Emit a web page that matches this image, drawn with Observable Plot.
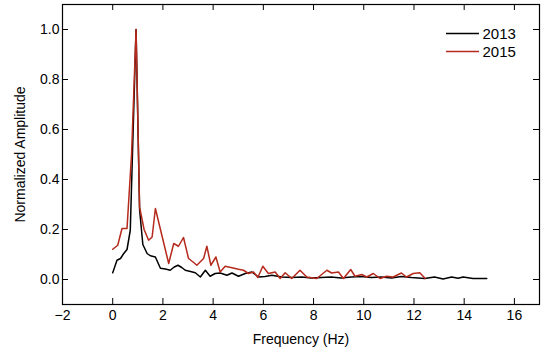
<!DOCTYPE html>
<html>
<head>
<meta charset="utf-8">
<script src="https://cdn.jsdelivr.net/npm/d3@7"></script>
<script src="https://cdn.jsdelivr.net/npm/@observablehq/plot@0.6"></script>
<style>
  html, body { margin: 0; padding: 0; background: #fff; }
  #chart { width: 550px; height: 354px; }
</style>
</head>
<body>
<div id="chart"></div>
<script>
const freq2013 = [0, 0.17, 0.31, 0.44, 0.57, 0.7, 0.93, 1.07, 1.2, 1.37, 1.5, 1.7, 1.9, 2.1, 2.29, 2.45, 2.6, 2.75, 2.89, 3.1, 3.29, 3.49, 3.69, 3.88, 4.08, 4.28, 4.55, 4.75, 5.01, 5.28, 5.54, 5.81, 6.07, 6.34, 6.73, 7.13, 7.53, 7.9, 8.3, 8.7, 9.1, 9.5, 9.9, 10.3, 10.7, 11.1, 11.5, 11.9, 12.43, 12.82, 13.16, 13.5, 13.76, 13.96, 14.35, 14.9];
const amp2013 = [0.027, 0.077, 0.084, 0.104, 0.12, 0.197, 1.0, 0.28, 0.14, 0.104, 0.095, 0.09, 0.045, 0.042, 0.037, 0.05, 0.057, 0.048, 0.037, 0.032, 0.027, 0.01, 0.037, 0.013, 0.024, 0.026, 0.017, 0.026, 0.013, 0.024, 0.03, 0.01, 0.012, 0.017, 0.01, 0.008, 0.01, 0.006, 0.008, 0.01, 0.006, 0.01, 0.012, 0.008, 0.01, 0.006, 0.012, 0.008, 0.004, 0.01, 0.002, 0.01, 0.005, 0.01, 0.004, 0.004];

const freq2015 = [0, 0.2, 0.37, 0.57, 0.75, 0.93, 1.07, 1.25, 1.43, 1.57, 1.7, 1.95, 2.23, 2.43, 2.62, 2.82, 3.02, 3.2, 3.35, 3.62, 3.75, 3.91, 4.11, 4.28, 4.48, 4.75, 5.01, 5.21, 5.41, 5.61, 5.78, 5.98, 6.2, 6.47, 6.67, 6.87, 7.13, 7.46, 7.73, 8.13, 8.53, 8.72, 8.99, 9.19, 9.48, 9.65, 9.92, 10.12, 10.38, 10.65, 10.91, 11.17, 11.5, 11.7, 11.97, 12.23, 12.45];
const amp2015 = [0.121, 0.137, 0.204, 0.204, 0.5, 1.0, 0.29, 0.2, 0.157, 0.17, 0.284, 0.18, 0.064, 0.144, 0.133, 0.168, 0.084, 0.07, 0.057, 0.084, 0.133, 0.057, 0.09, 0.03, 0.053, 0.047, 0.041, 0.037, 0.024, 0.03, 0.008, 0.053, 0.024, 0.03, 0.004, 0.027, 0.004, 0.037, 0.01, 0.004, 0.037, 0.026, 0.03, 0.004, 0.04, 0.013, 0.02, 0.01, 0.024, 0.004, 0.013, 0.01, 0.026, 0.01, 0.024, 0.027, 0.004];

const seriesNames = ["2013", "2015"];
const seriesColors = ["#000000", "#b52a1c"];
const xTicks = [-2, 0, 2, 4, 6, 8, 10, 12, 14, 16];
const yTicks = [0, 0.2, 0.4, 0.6, 0.8, 1.0];
const xLabel = "Frequency (Hz)";
const yLabel = "Normalized Amplitude";

const d2013 = freq2013.map((f, i) => ({f, a: amp2013[i]}));
const d2015 = freq2015.map((f, i) => ({f, a: amp2015[i]}));

const W = 550, H = 354;
const mL = 62, mR = 11, mT = 4, mB = 50;
const fw = W - mL - mR, fh = H - mT - mB;
const tickLen = 6;

const plot = Plot.plot({
  width: W, height: H,
  marginLeft: mL, marginRight: mR, marginTop: mT, marginBottom: mB,
  style: {fontFamily: "'Liberation Sans', Arial, sans-serif", fontSize: "14px", color: "#000", background: "#fff"},
  x: {domain: [-2, 17]},
  y: {domain: [-0.1, 1.1]},
  marks: [
    Plot.axisX({ticks: xTicks, tickSize: 0, tickPadding: 6, label: null, fontSize: 14}),
    Plot.axisY({ticks: yTicks, tickSize: 0, tickPadding: 3, label: null, fontSize: 14, tickFormat: d3.format(".1f")}),
    Plot.tickX(xTicks, {x: d => d, insetTop: fh - tickLen, stroke: "#000", strokeWidth: 1}),
    Plot.tickX(xTicks, {x: d => d, insetBottom: fh - tickLen, stroke: "#000", strokeWidth: 1}),
    Plot.tickY(yTicks, {y: d => d, insetRight: fw - tickLen, stroke: "#000", strokeWidth: 1}),
    Plot.tickY(yTicks, {y: d => d, insetLeft: fw - tickLen, stroke: "#000", strokeWidth: 1}),
    Plot.line(d2013, {x: "f", y: "a", stroke: seriesColors[0], strokeWidth: 1.5}),
    Plot.line(d2015, {x: "f", y: "a", stroke: seriesColors[1], strokeWidth: 1.5}),
    Plot.frame({stroke: "#000", strokeWidth: 1.2}),
    Plot.text([xLabel], {frameAnchor: "bottom", dy: 35, lineAnchor: "middle", textAnchor: "middle", fontSize: 14, fill: "#000"}),
    Plot.text([yLabel], {frameAnchor: "left", dx: -42, rotate: -90, textAnchor: "middle", lineAnchor: "middle", fontSize: 14, fill: "#000"})
  ]
});

document.getElementById("chart").appendChild(plot);

// Legend inside the plot area (top-right)
const svg = d3.select(plot);
const lg = svg.append("g")
  .attr("font-family", "'Liberation Sans', Arial, sans-serif")
  .attr("font-size", 15)
  .attr("text-anchor", "start");
seriesNames.forEach((name, i) => {
  const y = 33.5 + i * 18;
  lg.append("line").attr("x1", 446).attr("x2", 479).attr("y1", y).attr("y2", y)
    .attr("stroke", seriesColors[i]).attr("stroke-width", 1.5);
  lg.append("text").attr("x", 482.5).attr("y", y).attr("dy", "0.35em")
    .attr("text-anchor", "start").attr("fill", "#000").text(name);
});
</script>
</body>
</html>
